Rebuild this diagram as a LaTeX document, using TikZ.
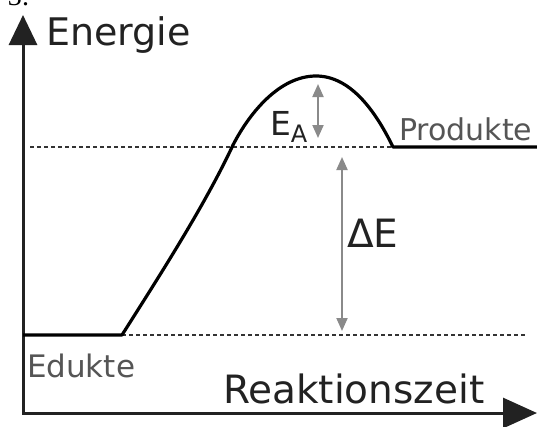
\documentclass[tikz,border=0pt]{standalone}
\usepackage{fontspec}
\setmainfont{DejaVu Sans}
\newfontfamily\serifnum{Liberation Serif}
\usetikzlibrary{arrows.meta}
\definecolor{axiscol}{HTML}{222222}
\definecolor{dashcol}{HTML}{333333}
\definecolor{arrowcol}{HTML}{8A8A8A}
\definecolor{labelcol}{HTML}{555555}
\begin{document}
\begin{tikzpicture}[x=1pt,y=-1pt,
  lbl/.style={anchor=base west, inner sep=0pt, outer sep=0pt},
  axisline/.style={draw=axiscol, line width=3pt},
  levelline/.style={draw=dashcol, line width=2pt, dash pattern=on 4pt off 3pt},
  energyarrow/.style={draw=arrowcol, line width=2pt, {Triangle[length=13pt,width=11pt]}-{Triangle[length=13pt,width=11pt]}},
  curveline/.style={draw=black, line width=3.2pt, line join=round}]
\useasboundingbox (0,0) rectangle (537,426);
% coordinates
\coordinate (ytip) at (23,15);
\coordinate (origin) at (23,413);
\coordinate (xtip) at (537,413);
\coordinate (edstart) at (23,335);
\coordinate (edend) at (122,335);
\coordinate (cross) at (233,145);
\coordinate (peak) at (316,76);
\coordinate (prodstart) at (393,147);
\coordinate (prodend) at (537,147);
\coordinate (pdl) at (30,147);
\coordinate (edr) at (527,335);
\coordinate (eatop) at (318,84);
\coordinate (eabot) at (318,138);
\coordinate (detop) at (342,157);
\coordinate (debot) at (342,331);
% cut-off number at top
\node[lbl, font=\serifnum\fontsize{28}{28}\selectfont] (num) at (8,5) {3.};
% dashed levels
\draw[levelline] (pdl) -- (prodstart);
\draw[levelline] (edend) -- (edr);
% axes
\draw[axisline, {Triangle[length=30pt,width=28pt]}-{Triangle[length=34pt,width=30pt]}] (ytip) -- (origin) -- (xtip);
% energy curve
\draw[curveline] (edstart) -- (edend)
  .. controls (160,275) and (205,205) .. (cross)
  .. controls (250,112) and (280,76) .. (peak)
  .. controls (350,76) and (375,110) .. (prodstart) -- (prodend);
% arrows
\draw[energyarrow] (eatop) -- (eabot);
\draw[energyarrow] (detop) -- (debot);
% labels
\node[lbl, text=axiscol, font=\fontsize{38}{40}\selectfont] (energie) at (46,45) {Energie};
\node[lbl, text=axiscol, font=\fontsize{39}{40}\selectfont] (zeit) at (223,403) {Reaktionszeit};
\node[lbl, text=labelcol, font=\fontsize{31}{32}\selectfont] (edukte) at (27,377) {Edukte};
\node[lbl, text=labelcol, font=\fontsize{30}{32}\selectfont] (produkte) at (399,140) {Produkte};
\node[lbl, text=axiscol, font=\fontsize{39}{40}\selectfont] (de) at (347,247) {ΔE};
\node[lbl, text=axiscol, font=\fontsize{33}{34}\selectfont] (ea) at (270,135) {E\raisebox{-7pt}{\fontsize{24}{24}\selectfont A}};
\end{tikzpicture}
\end{document}
